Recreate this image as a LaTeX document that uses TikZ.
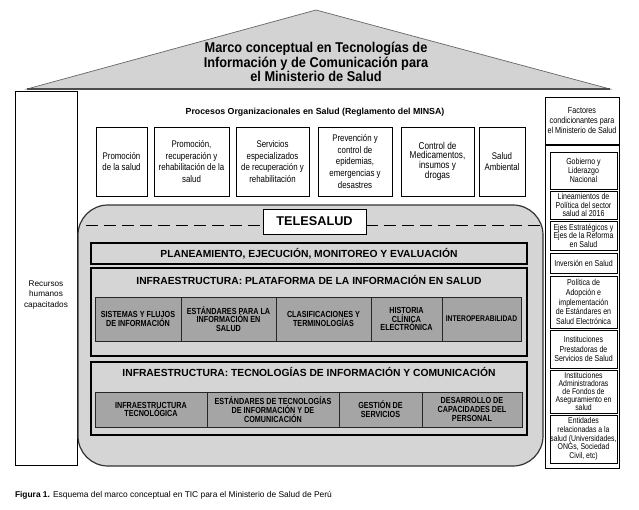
\documentclass[tikz,border=0pt]{standalone}
\usepackage{fontspec}
\setmainfont{Liberation Sans}
\newfontfamily\nar[FakeStretch=0.82]{Liberation Sans}
\newfontfamily\narr[FakeStretch=0.9]{Liberation Sans}
\definecolor{roofgray}{HTML}{D3D3D3}
\definecolor{telegray}{HTML}{D5D5D5}
\definecolor{subgray}{HTML}{A5A5A5}
\begin{document}
\begin{tikzpicture}[x=1pt,y=-1pt,
  every node/.style={inner sep=0pt, outer sep=0pt},
  pbox/.style={draw, line width=0.8pt, fill=white, align=center, anchor=north west, font=\nar\fontsize{9.6}{11.7}\selectfont},
  rbox/.style={draw, line width=0.9pt, fill=white, align=center, anchor=north west, font=\nar\fontsize{8.6}{9.3}\selectfont},
  framebox/.style={draw, line width=2.8pt, fill=telegray, anchor=north west},
  sbox/.style={draw=black!85, line width=0.8pt, fill=subgray, align=center, anchor=north west, font=\nar\bfseries\fontsize{8.8}{8.8}\selectfont},
  ttl/.style={font=\bfseries\fontsize{10.3}{12}\selectfont},
]
\useasboundingbox (0,0) rectangle (639,509);

% roof
\path[fill=roofgray, draw=black!60, line width=0.7pt] (27,89) -- (316,10) -- (610,89) -- cycle;
\draw[line width=2pt, black!70] (27,89) -- (610,89);
\node[font=\narr\bfseries\fontsize{14.2}{11.8}\selectfont, align=center] (roof) at (316,62) {Marco conceptual en Tecnologías de\\Información y de Comunicación para\\el Ministerio de Salud};

% left column
\node[draw, line width=0.8pt, minimum width=62pt, minimum height=374pt, anchor=north west] (rh) at (15,91) {};
\node[align=center, font=\fontsize{8.2}{10.5}\selectfont] (rhtext) at (46,295) {Recursos\\humanos\\capacitados};

% processes
\node[font=\bfseries\fontsize{8.8}{10}\selectfont] (proc) at (315,112) {Procesos Organizacionales en Salud (Reglamento del MINSA)};
\node[pbox, minimum width=51pt, minimum height=69pt] (p1) at (96,127) {Promoción\\de la salud};
\node[pbox, minimum width=75pt, minimum height=69pt] (p2) at (154,127) {Promoción,\\recuperación y\\rehabilitación de la\\salud};
\node[pbox, minimum width=73pt, minimum height=69pt] (p3) at (236,127) {Servicios\\especializados\\de recuperación y\\rehabilitación};
\node[pbox, minimum width=74pt, minimum height=69pt] (p4) at (318,127) {Prevención y\\control de\\epidemias,\\emergencias y\\desastres};
\node[pbox, minimum width=73pt, minimum height=69pt, font=\nar\fontsize{10}{9.3}\selectfont] (p5) at (401,127) {Control de\\Medicamentos,\\insumos y\\drogas};
\node[pbox, minimum width=46pt, minimum height=69pt] (p6) at (479,127) {Salud\\Ambiental};

% telesalud
\node[draw=black!80, line width=1.2pt, fill=telegray, rounded corners=30pt, minimum width=465pt, minimum height=261pt, anchor=north west] (tele) at (78,205) {};
\node[draw, fill=white, line width=0.8pt, minimum width=103pt, minimum height=25pt, anchor=north west, font=\bfseries\fontsize{12.7}{14}\selectfont] (tsl) at (263,209) {TELESALUD};
\coordinate (dl) at (86,225);
\coordinate (dr) at (540,225);
\draw[line width=0.8pt, dash pattern=on 12pt off 6pt] (dl) -- (dl -| tsl.west);
\draw[line width=0.8pt, dash pattern=on 12pt off 6pt] (dr) -- (dr -| tsl.east);

\node[framebox, minimum width=436pt, minimum height=21pt, font=\bfseries\fontsize{10.3}{12}\selectfont] (plan) at (91,243) {PLANEAMIENTO, EJECUCIÓN, MONITOREO Y EVALUACIÓN};

\node[framebox, minimum width=436pt, minimum height=88pt] (ip) at (91,268) {};
\node[ttl] (ipt) at (309,280) {INFRAESTRUCTURA: PLATAFORMA DE LA INFORMACIÓN EN SALUD};
\node[sbox, minimum width=86pt, minimum height=44pt] (s1) at (95,297) {SISTEMAS Y FLUJOS\\DE INFORMACIÓN};
\node[sbox, minimum width=95pt, minimum height=44pt] (s2) at (181,297) {ESTÁNDARES PARA LA\\INFORMACIÓN EN\\SALUD};
\node[sbox, minimum width=95pt, minimum height=44pt] (s3) at (276,297) {CLASIFICACIONES Y\\TERMINOLOGÍAS};
\node[sbox, minimum width=71pt, minimum height=44pt] (s4) at (371,297) {HISTORIA\\CLÍNICA\\ELECTRÓNICA};
\node[sbox, minimum width=79pt, minimum height=44pt, font=\nar\bfseries\fontsize{8.2}{8.8}\selectfont] (s5) at (442,297) {INTEROPERABILIDAD};

\node[framebox, minimum width=436pt, minimum height=73pt] (it) at (91,362) {};
\node[ttl] (itt) at (309,372) {INFRAESTRUCTURA: TECNOLOGÍAS DE INFORMACIÓN Y COMUNICACIÓN};
\node[sbox, minimum width=112pt, minimum height=35pt] (t1) at (95,392) {INFRAESTRUCTURA\\TECNOLÓGICA};
\node[sbox, minimum width=132pt, minimum height=35pt] (t2) at (207,392) {ESTÁNDARES DE TECNOLOGÍAS\\DE INFORMACIÓN Y DE\\COMUNICACIÓN};
\node[sbox, minimum width=83pt, minimum height=35pt] (t3) at (339,392) {GESTIÓN DE\\SERVICIOS};
\node[sbox, minimum width=100pt, minimum height=35pt] (t4) at (422,392) {DESARROLLO DE\\CAPACIDADES DEL\\PERSONAL};

% right column
\node[rbox, minimum width=74pt, minimum height=47pt, font=\nar\fontsize{8.8}{10}\selectfont] (fac) at (545,97) {Factores\\condicionantes para\\el Ministerio de Salud};
\node[draw, line width=0.9pt, minimum width=74pt, minimum height=323pt, anchor=north west] (rc) at (545,145) {};
\node[rbox, minimum width=67pt, minimum height=37pt] (r1) at (550,152) {Gobierno y\\Liderazgo\\Nacional};
\node[rbox, minimum width=67pt, minimum height=28pt, font=\nar\fontsize{8.6}{8.5}\selectfont] (r2) at (550,191) {Lineamientos de\\Política del sector\\salud al 2016};
\node[rbox, minimum width=67pt, minimum height=29pt, font=\nar\fontsize{8.6}{8.5}\selectfont] (r3) at (550,221) {Ejes Estratégicos y\\Ejes de la Reforma\\en Salud};
\node[rbox, minimum width=67pt, minimum height=20pt] (r4) at (550,253) {Inversión en Salud};
\node[rbox, minimum width=67pt, minimum height=52pt, font=\nar\fontsize{8.6}{9.6}\selectfont] (r5) at (550,276) {Política de\\Adopción e\\implementación\\de Estándares en\\Salud Electrónica};
\node[rbox, minimum width=67pt, minimum height=38pt] (r6) at (550,330) {Instituciones\\Prestadoras de\\Servicios de Salud};
\node[rbox, minimum width=67pt, minimum height=43pt, font=\nar\fontsize{8.4}{7.9}\selectfont] (r7) at (550,370) {Instituciones\\Administradoras\\de Fondos de\\Aseguramiento en\\salud};
\node[rbox, minimum width=67pt, minimum height=48pt, font=\nar\fontsize{8.4}{8.7}\selectfont] (r8) at (550,415) {Entidades\\relacionadas a la\\salud (Universidades,\\ONGs, Sociedad\\Civil, etc)};

% caption
\node[anchor=base west, font=\fontsize{8.4}{10}\selectfont] (cap) at (15,497) {\textbf{Figura 1.} Esquema del marco conceptual en TIC para el Ministerio de Salud de Perú};
\end{tikzpicture}
\end{document}
